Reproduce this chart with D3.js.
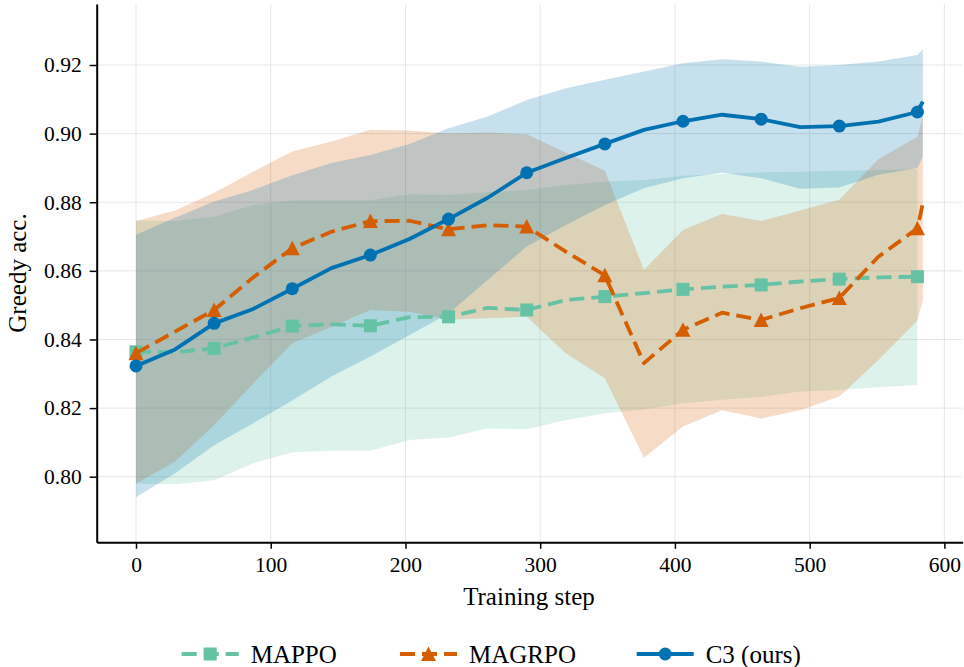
<!DOCTYPE html>
<html lang="en">
<head>
  <meta charset="UTF-8">
  <title>Greedy acc. vs training step</title>
  <script src="https://d3js.org/d3.v7.min.js"></script>
  <style>
    body { margin: 0; background: white; }
    svg { display: block; }
    text { font-family: "Liberation Serif", "Times New Roman", serif; fill: black; }
  </style>
</head>
<body>
  <div id="chart"></div>
  <script>
    // training steps (MAPPO stops at 580, the other two at 584)
    const steps = [0, 29, 58, 87, 116, 145, 174, 203, 232, 261, 290, 319, 348, 377, 406, 435, 464, 493, 522, 551, 580, 584];

    const mappoMean = [0.8364, 0.8363, 0.8374, 0.8406, 0.8439, 0.8444, 0.8440, 0.8465, 0.8466, 0.8492, 0.8486, 0.8515, 0.8525, 0.8535, 0.8546, 0.8554, 0.8559, 0.8569, 0.8576, 0.8581, 0.8583];
    const mappoLow  = [0.7980, 0.7978, 0.7990, 0.8039, 0.8071, 0.8076, 0.8076, 0.8107, 0.8114, 0.8141, 0.8138, 0.8165, 0.8185, 0.8196, 0.8214, 0.8224, 0.8233, 0.8248, 0.8253, 0.8261, 0.8267];
    const mappoHigh = [0.8747, 0.8745, 0.8758, 0.8792, 0.8805, 0.8806, 0.8806, 0.8823, 0.8821, 0.8829, 0.8836, 0.8850, 0.8860, 0.8865, 0.8877, 0.8882, 0.8887, 0.8889, 0.8892, 0.8893, 0.8897];

    const magrpoMean = [0.8360, 0.8423, 0.8486, 0.8581, 0.8666, 0.8714, 0.8745, 0.8746, 0.8721, 0.8733, 0.8729, 0.8656, 0.8587, 0.8331, 0.8428, 0.8478, 0.8457, 0.8491, 0.8521, 0.8641, 0.8724, 0.8797];
    const magrpoLow  = [0.7980, 0.8044, 0.8151, 0.8272, 0.8389, 0.8437, 0.8486, 0.8481, 0.8458, 0.8462, 0.8466, 0.8360, 0.8287, 0.8055, 0.8146, 0.8194, 0.8170, 0.8194, 0.8234, 0.8340, 0.8455, 0.8515];
    const magrpoHigh = [0.8745, 0.8776, 0.8828, 0.8889, 0.8948, 0.8977, 0.9011, 0.9009, 0.9000, 0.9003, 0.8998, 0.8945, 0.8892, 0.8603, 0.8719, 0.8766, 0.8745, 0.8776, 0.8807, 0.8925, 0.8991, 0.9050];

    const c3Mean = [0.8323, 0.8371, 0.8447, 0.8489, 0.8548, 0.8608, 0.8646, 0.8693, 0.8751, 0.8813, 0.8886, 0.8929, 0.8970, 0.9011, 0.9036, 0.9055, 0.9042, 0.9019, 0.9022, 0.9035, 0.9063, 0.9093];
    const c3Low  = [0.7940, 0.8010, 0.8092, 0.8156, 0.8222, 0.8292, 0.8350, 0.8413, 0.8476, 0.8573, 0.8671, 0.8734, 0.8792, 0.8841, 0.8870, 0.8886, 0.8870, 0.8839, 0.8843, 0.8880, 0.8900, 0.8933];
    const c3High = [0.8705, 0.8755, 0.8802, 0.8836, 0.8879, 0.8914, 0.8938, 0.8970, 0.9016, 0.9050, 0.9098, 0.9132, 0.9157, 0.9181, 0.9205, 0.9217, 0.9210, 0.9195, 0.9200, 0.9210, 0.9229, 0.9246];

    const xTicks = [0, 100, 200, 300, 400, 500, 600];
    const yTicks = [0.80, 0.82, 0.84, 0.86, 0.88, 0.90, 0.92];

    const width = 964, height = 667;
    const plotL = 96.7, plotR = 962.7, plotT = 4, plotB = 542.3;
    const serif = '"Liberation Serif", "Times New Roman", serif';

    const x = d3.scaleLinear().domain([-29.17, 613.6]).range([plotL, plotR]);
    const y = d3.scaleLinear().domain([0.78088, 0.93778]).range([plotB, plotT]);

    const svg = d3.select("#chart").append("svg")
      .attr("width", width)
      .attr("height", height);

    // grid
    svg.append("g").selectAll("line")
      .data(xTicks).enter().append("line")
      .attr("x1", d => x(d)).attr("x2", d => x(d))
      .attr("y1", plotT).attr("y2", plotB)
      .attr("stroke", "#e6e6e6").attr("stroke-width", 1);
    svg.append("g").selectAll("line")
      .data(yTicks).enter().append("line")
      .attr("x1", plotL).attr("x2", plotR)
      .attr("y1", d => y(d)).attr("y2", d => y(d))
      .attr("stroke", "#e6e6e6").attr("stroke-width", 1);

    const series = [
      { name: "MAPPO", color: "#66c2a5", mean: mappoMean, low: mappoLow, high: mappoHigh, dash: "15,7", marker: "square" },
      { name: "MAGRPO", color: "#d55e00", mean: magrpoMean, low: magrpoLow, high: magrpoHigh, dash: "15,7", marker: "triangle" },
      { name: "C3 (ours)", color: "#0072b2", mean: c3Mean, low: c3Low, high: c3High, dash: null, marker: "circle" }
    ];

    const area = d3.area()
      .x(d => x(d.step))
      .y0(d => y(d.low))
      .y1(d => y(d.high));
    const line = d3.line()
      .x(d => x(d.step))
      .y(d => y(d.v));

    series.forEach(s => {
      s.pts = s.mean.map((v, i) => ({ step: steps[i], v: v, low: s.low[i], high: s.high[i] }));
    });

    // bands first
    series.forEach(s => {
      svg.append("path")
        .datum(s.pts)
        .attr("d", area)
        .attr("fill", s.color)
        .attr("fill-opacity", 0.22)
        .attr("stroke", "none");
    });

    function drawMarker(g, type, cx, cy, color) {
      if (type === "circle") {
        g.append("circle").attr("cx", cx).attr("cy", cy).attr("r", 6.5).attr("fill", color);
      } else if (type === "square") {
        g.append("rect").attr("x", cx - 6.5).attr("y", cy - 6.5)
          .attr("width", 13).attr("height", 13).attr("fill", color);
      } else {
        g.append("path")
          .attr("d", `M${cx},${cy - 7.5}L${cx - 7.5},${cy + 7}L${cx + 7.5},${cy + 7}Z`)
          .attr("fill", color);
      }
    }

    series.forEach(s => {
      const g = svg.append("g");
      g.append("path")
        .datum(s.pts)
        .attr("d", line)
        .attr("fill", "none")
        .attr("stroke", s.color)
        .attr("stroke-width", 3.8)
        .attr("stroke-dasharray", s.dash)
        .attr("stroke-linejoin", "round");
      // marker every second point
      s.pts.filter((d, i) => i % 2 === 0).forEach(d => {
        drawMarker(g, s.marker, x(d.step), y(d.v), s.color);
      });
    });

    // axes
    const xAxis = d3.axisBottom(x).tickValues(xTicks).tickSize(6.5).tickSizeOuter(0).tickPadding(8)
      .tickFormat(d3.format("d"));
    const yAxis = d3.axisLeft(y).tickValues(yTicks).tickSize(7).tickSizeOuter(0).tickPadding(8)
      .tickFormat(d3.format(".2f"));

    const gx = svg.append("g").attr("transform", `translate(0,${plotB})`).call(xAxis);
    const gy = svg.append("g").attr("transform", `translate(${plotL},0)`).call(yAxis);
    [gx, gy].forEach(g => {
      g.attr("font-family", serif).attr("font-size", 21.5);
      g.select(".domain").attr("stroke", "black").attr("stroke-width", 2);
      g.selectAll(".tick line").attr("stroke", "black").attr("stroke-width", 1.5);
      g.selectAll(".tick text")
        .attr("font-family", serif)
        .style("font-family", serif)
        .style("font-size", "21.5px")
        .attr("fill", "black");
    });

    svg.append("text")
      .attr("transform", "translate(26,273) rotate(-90)")
      .attr("text-anchor", "middle")
      .style("font-size", "25px")
      .text("Greedy acc.");

    svg.append("text")
      .attr("x", 529).attr("y", 605)
      .attr("text-anchor", "middle")
      .style("font-size", "25px")
      .text("Training step");

    // legend
    const legendX = [181.7, 400, 636.7];
    const legendY = 654;
    series.forEach((s, i) => {
      const g = svg.append("g");
      const x0 = legendX[i];
      g.append("line")
        .attr("x1", x0).attr("x2", x0 + 57)
        .attr("y1", legendY).attr("y2", legendY)
        .attr("stroke", s.color)
        .attr("stroke-width", 3.8)
        .attr("stroke-dasharray", s.dash);
      drawMarker(g, s.marker, x0 + 28.5, legendY, s.color);
      g.append("text")
        .attr("x", x0 + 69)
        .attr("y", legendY + 9)
        .style("font-size", "25px")
        .text(s.name);
    });
  </script>
</body>
</html>
